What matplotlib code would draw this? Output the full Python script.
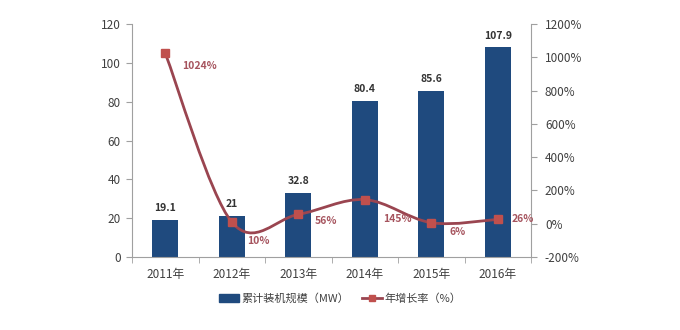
import matplotlib
matplotlib.use("Agg")
import matplotlib.pyplot as plt
from matplotlib.path import Path
from matplotlib.patches import PathPatch
from matplotlib.lines import Line2D
from matplotlib.patches import Patch
import numpy as np

plt.rcParams['font.family'] = ['Noto Sans CJK SC', 'DejaVu Sans']

# data
years = ['2011年', '2012年', '2013年', '2014年', '2015年', '2016年']
capacity = [19.1, 21, 32.8, 80.4, 85.6, 107.9]
growth = [1024, 10, 56, 145, 6, 26]
growth_labels = ['1024%', '10%', '56%', '145%', '6%', '26%']
bar_name = '累计装机规模（MW）'
line_name = '年增长率（%）'

bar_color = '#1F4A7E'
line_color = '#9A4550'
marker_color = '#C0504D'
label_red = '#A6545E'
axis_gray = '#A0A0A0'
text_gray = '#404040'

fig = plt.figure(figsize=(6.8, 3.3), dpi=100)
ax = fig.add_axes([132/680, 1-257/330, 399/680, 233/330])
ax2 = ax.twinx()

x = np.arange(len(years))
ax.bar(x, capacity, width=0.39, color=bar_color, zorder=2)
for xi, v in zip(x, capacity):
    ax.annotate(f'{v:g}', (xi, v), xytext=(0, 5), textcoords='offset points',
                ha='center', va='bottom', fontsize=7.5, fontweight='bold', color='#333333')

ax.set_xlim(-0.5, len(years) - 0.5)
ax.set_ylim(0, 120)
ax.set_yticks(range(0, 121, 20))
ax.set_xticks(x)
ax.set_xticklabels(years)
ax.set_xticks(np.arange(-0.5, len(years)), minor=True)
ax.tick_params(axis='x', which='major', length=0, pad=8)
ax.tick_params(axis='x', which='minor', length=4, color=axis_gray)
ax.tick_params(axis='y', length=4, color=axis_gray, pad=4)
ax.tick_params(labelsize=8.5, labelcolor=text_gray)

ax2.set_ylim(-200, 1200)
ax2.set_yticks(range(-200, 1201, 200))
ax2.set_yticklabels([f'{t}%' for t in range(-200, 1201, 200)])
ax2.tick_params(axis='y', length=4, color=axis_gray, labelsize=8.5,
                labelcolor=text_gray, pad=6)

for a in (ax, ax2):
    a.spines['top'].set_visible(False)
    for side in ('left', 'right', 'bottom'):
        a.spines[side].set_color(axis_gray)
ax.spines['right'].set_visible(False)
ax2.spines['left'].set_visible(False)
ax2.spines['bottom'].set_visible(False)

# smoothed line (Catmull-Rom style bezier, like Excel smoothing)
pts = np.column_stack([x, growth]).astype(float)
verts = [tuple(pts[0])]
codes = [Path.MOVETO]
n = len(pts)
for i in range(n - 1):
    p0 = pts[max(i - 1, 0)]
    p1 = pts[i]
    p2 = pts[i + 1]
    p3 = pts[min(i + 2, n - 1)]
    c1 = p1 + (p2 - p0) / 6
    c2 = p2 - (p3 - p1) / 6
    verts += [tuple(c1), tuple(c2), tuple(p2)]
    codes += [Path.CURVE4] * 3
ax2.add_patch(PathPatch(Path(verts, codes), fill=False, edgecolor=line_color,
                        lw=2, zorder=3))
ax2.plot(x, growth, ls='none', marker='s', ms=6, color=marker_color, zorder=4)

offsets = [(12, -9.5), (11, -13.5), (12, -5), (13, -14), (13, -7), (10, 0)]
for xi, v, lab, off in zip(x, growth, growth_labels, offsets):
    ax2.annotate(lab, (xi, v), xytext=off, textcoords='offset points',
                 ha='left', va='center', fontsize=7.5, fontweight='bold', color=label_red)

handles = [Patch(color=bar_color),
           Line2D([], [], color=line_color, lw=2, marker='s', ms=5,
                  markerfacecolor=marker_color, markeredgecolor=marker_color)]
fig.legend(handles, [bar_name, line_name], loc='center', bbox_to_anchor=(0.5, 0.095),
           ncol=2, frameon=False, fontsize=8, handlelength=1.8, columnspacing=1.2,
           labelcolor=text_gray, handletextpad=0.2)

fig.savefig('out.png', dpi=100)
